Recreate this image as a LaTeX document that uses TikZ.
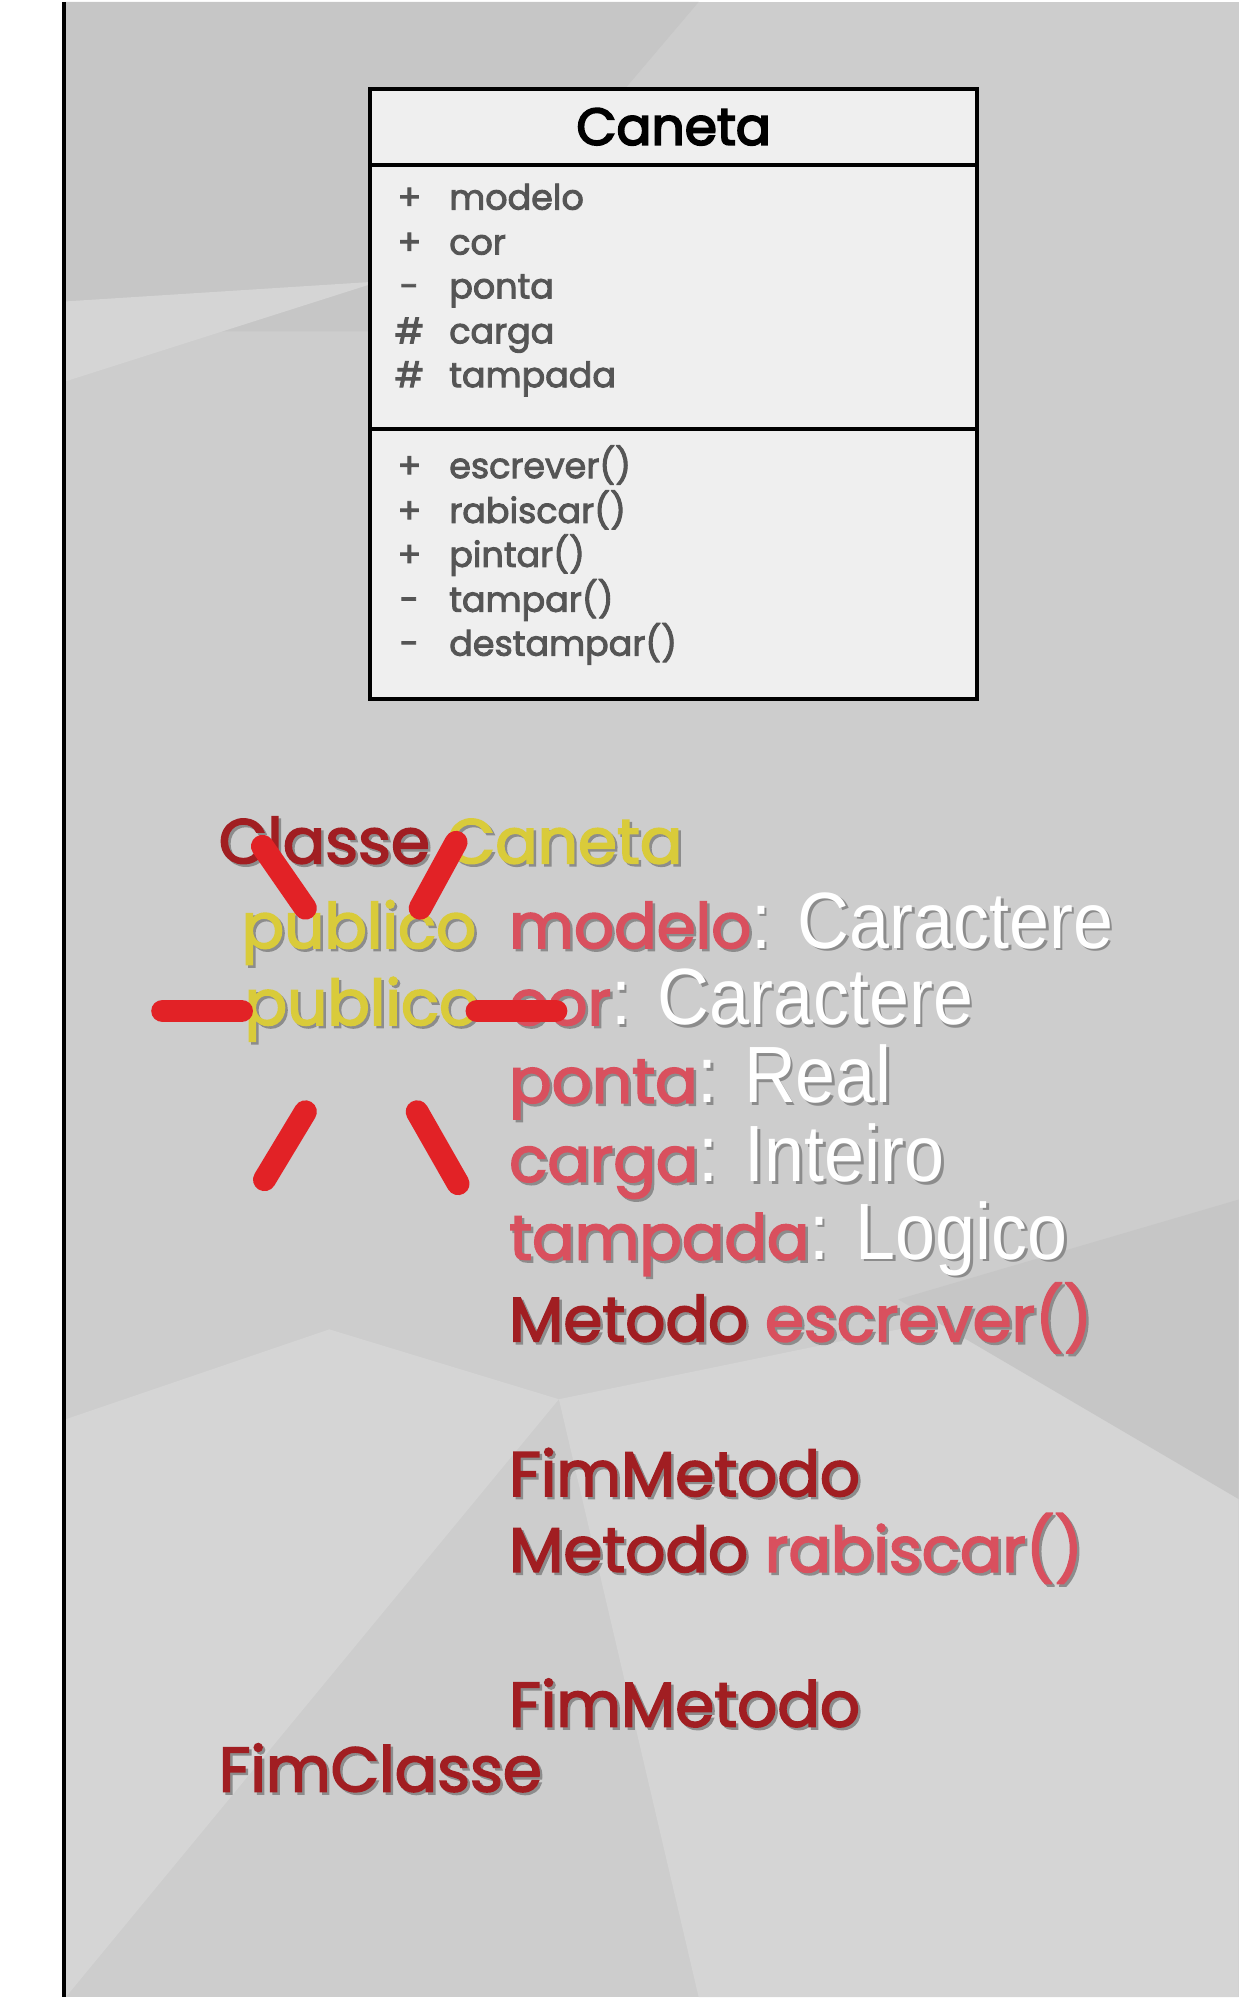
\documentclass[tikz,border=0pt]{standalone}
\usepackage{fontspec}
\setmainfont{Poppins}
\newfontfamily\grossa[FakeBold=2.6]{Poppins}
\newfontfamily\titulofonte[FakeBold=3.5]{Poppins}
\newfontfamily\estreita[FakeStretch=0.9]{Liberation Sans}
\usetikzlibrary{positioning}

\definecolor{fundo}{HTML}{CDCDCD}
\definecolor{fundoclaro}{HTML}{D5D5D5}
\definecolor{fundoescuro}{HTML}{C6C6C6}
\definecolor{caixafundo}{HTML}{EFEFEF}
\definecolor{cinzatxt}{HTML}{555555}
\definecolor{vermelho}{HTML}{A11E22}
\definecolor{rosa}{HTML}{D9505E}
\definecolor{amarelo}{HTML}{D9CB3A}
\definecolor{risco}{HTML}{E22226}

% texto com sombra
\newcommand{\sombra}[2]{\makebox[0pt][l]{\kern2.5pt\raisebox{-2.5pt}{\color{black!45}#2}}{\color{#1}#2}}
\newcommand{\tipotxt}[1]{{\estreita\fontsize{80}{90}\selectfont\sombra{white}{#1}}}

\begin{document}
\begin{tikzpicture}[
		x=1pt, y=-1pt,                                   % 1 单位 = 1 像素，y 向下
		caixa/.style={draw=black, line width=4pt, fill=caixafundo,
			minimum width=608pt, inner sep=0pt, anchor=north west},   % 类图方框
		vis/.style={anchor=base west, inner sep=0pt, text=cinzatxt,
			font=\grossa\fontsize{35}{40}\selectfont},   % 方框内的行
		txt/.style={anchor=base west, inner sep=0pt,
			font=\grossa\fontsize{63}{70}\selectfont},   % 下方伪代码
		traco/.style={draw=risco, line width=23pt, line cap=round}  % 红色短线
		]
		% 背景
		\fill[white] (0,0) rectangle (62,1999);
		\fill[fundo] (66,0) rectangle (1241,1999);
		\fill[fundoescuro] (66,0) -- (700,0) -- (420,330) -- (66,330) -- cycle;
		\fill[fundoclaro] (66,300) -- (380,280) -- (66,380) -- cycle;
		\fill[fundoclaro] (66,1420) -- (330,1330) -- (560,1400) -- (66,1999) -- cycle;
		\fill[fundoclaro] (560,1400) -- (1241,1260) -- (1241,1999) -- (700,1999) -- cycle;
		\fill[fundoescuro] (900,1300) -- (1241,1200) -- (1241,1500) -- cycle;
		\draw[black, line width=4pt] (64,0) -- (64,1999);
		
		% 类图
		\node[caixa, minimum height=76pt] (titulo) at (369,85)
		{\titulofonte\fontsize{52}{60}\selectfont Caneta};
		\node[caixa, minimum height=265pt] (atrib) at (369,161) {};
		\node[caixa, minimum height=270pt] (metod) at (369,426) {};
		
		\node[vis] (a1) at (400,208) {\makebox[20pt][c]{+}\hspace{30pt}modelo};
		\node[vis] (a2) at (400,253) {\makebox[20pt][c]{+}\hspace{30pt}cor};
		\node[vis] (a3) at (400,297) {\makebox[20pt][c]{-}\hspace{30pt}ponta};
		\node[vis] (a4) at (400,342) {\makebox[20pt][c]{\#}\hspace{30pt}carga};
		\node[vis] (a5) at (400,386) {\makebox[20pt][c]{\#}\hspace{30pt}tampada};
		
		\node[vis] (m1) at (400,477) {\makebox[20pt][c]{+}\hspace{30pt}escrever()};
		\node[vis] (m2) at (400,522) {\makebox[20pt][c]{+}\hspace{30pt}rabiscar()};
		\node[vis] (m3) at (400,566) {\makebox[20pt][c]{+}\hspace{30pt}pintar()};
		\node[vis] (m4) at (400,611) {\makebox[20pt][c]{-}\hspace{30pt}tampar()};
		\node[vis] (m5) at (400,655) {\makebox[20pt][c]{-}\hspace{30pt}destampar()};
		
		% 伪代码
		\node[txt] (classe) at (219,863) {\sombra{vermelho}{Classe} \sombra{amarelo}{Caneta}};
		\node[txt] (pub1) at (242,948) {\sombra{amarelo}{publico}};
		\node[txt] (modelo) at (510,948) {\sombra{rosa}{modelo}\tipotxt{: Caractere}};
		\node[txt] (pub2) at (245,1025) {\sombra{amarelo}{publico}};
		\node[txt] (cor) at (510,1025) {\sombra{rosa}{cor}\tipotxt{: Caractere}};
		\node[txt] (ponta) at (510,1103) {\sombra{rosa}{ponta}\tipotxt{: Real}};
		\node[txt] (carga) at (510,1182) {\sombra{rosa}{carga}\tipotxt{: Inteiro}};
		\node[txt] (tampada) at (510,1260) {\sombra{rosa}{tampada}\tipotxt{: Logico}};
		\node[txt] (escrever) at (510,1342) {\sombra{vermelho}{Metodo} \sombra{rosa}{escrever()}};
		\node[txt] (fim1) at (510,1497) {\sombra{vermelho}{FimMetodo}};
		\node[txt] (rabiscar) at (510,1573) {\sombra{vermelho}{Metodo} \sombra{rosa}{rabiscar()}};
		\node[txt] (fim2) at (510,1728) {\sombra{vermelho}{FimMetodo}};
		\node[txt] (fimclasse) at (219,1793) {\sombra{vermelho}{FimClasse}};
		
		% 红色短线
		\draw[traco] (263,846) -- (306,908);
		\draw[traco] (457,842) -- (421,908);
		\draw[traco] (163,1011) -- (242,1011);
		\draw[traco] (478,1011) -- (557,1011);
		\draw[traco] (306,1112) -- (265,1180);
		\draw[traco] (418,1112) -- (459,1184);
		
		\useasboundingbox (0,0) rectangle (1241,1999);
	\end{tikzpicture}
\end{document}
